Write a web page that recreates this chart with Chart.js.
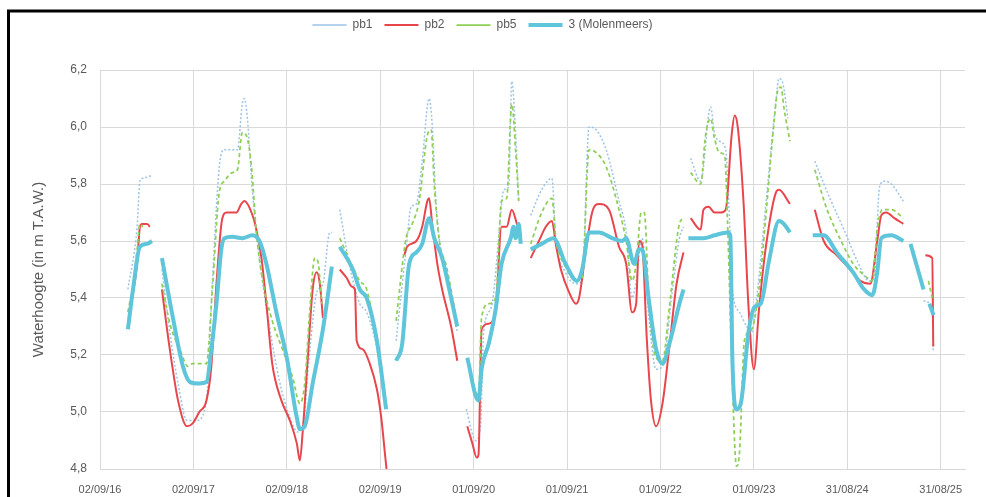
<!DOCTYPE html>
<html lang="nl">
<head>
<meta charset="UTF-8">
<title>Waterhoogte peilbuizen</title>
<script src="https://cdn.jsdelivr.net/npm/chart.js"></script>
<style>
  * { margin: 0; padding: 0; box-sizing: border-box; }
  body { background: #fff; }
  canvas { display: block; }
</style>
</head>
<body>
<canvas id="myChart" width="986" height="497"></canvas>
<script>
// data block (null = gap in the measurements)
const tickLabels = ['02/09/16', '02/09/17', '02/09/18', '02/09/19', '01/09/20', '01/09/21', '01/09/22', '01/09/23', '31/08/24', '31/08/25'];
const axisEnd = '2025-12-04';

const pb1Dates = [
  '2016-12-20', '2017-01-25', '2017-02-05', '2017-02-17', '2017-03-24', '2017-04-10',
  '2017-05-02', '2017-06-02', '2017-07-04', '2017-08-08', '2017-09-14', '2017-10-23', '2017-11-15', '2017-12-12', '2018-01-01', '2018-02-21', '2018-03-12', '2018-03-20', '2018-04-01', '2018-04-20', '2018-05-18', '2018-06-26', '2018-08-04', '2018-09-14', '2018-10-15', '2018-11-03', '2018-12-01', '2018-12-28', '2019-01-21', '2019-02-17', '2019-02-25', '2019-03-10',
  '2019-03-28', '2019-05-06', '2019-06-14', '2019-07-11', '2019-08-20', '2019-09-18', '2019-10-10',
  '2019-11-03', '2019-12-12', '2020-01-01', '2020-01-21', '2020-02-13', '2020-03-11', '2020-03-23', '2020-04-08', '2020-05-01', '2020-05-29', '2020-06-29', '2020-07-15',
  '2020-08-03', '2020-09-09', '2020-09-28', '2020-10-10', '2020-11-10', '2020-12-08', '2020-12-28', '2021-01-16', '2021-01-28', '2021-02-12', '2021-02-24', '2021-03-20',
  '2021-04-12', '2021-05-25', '2021-07-04', '2021-07-19', '2021-08-26', '2021-10-06', '2021-10-30', '2021-11-26', '2021-12-24', '2022-02-01', '2022-03-23', '2022-04-20', '2022-05-13', '2022-05-29', '2022-06-21', '2022-07-18', '2022-08-15', '2022-09-09', '2022-10-18', '2022-11-14', '2022-11-30', '2022-12-10',
  '2022-12-28', '2023-02-05', '2023-03-16', '2023-03-31', '2023-04-20', '2023-05-14', '2023-05-29', '2023-06-09', '2023-07-07', '2023-08-04', '2023-08-23', '2023-09-13', '2023-10-18', '2023-11-26', '2023-12-08', '2023-12-24', '2024-01-12', '2024-02-20',
  '2024-04-26', '2024-06-24', '2024-08-18', '2024-10-09', '2024-11-25', '2024-12-15', '2025-01-04', '2025-01-24', '2025-02-19', '2025-04-07', '2025-05-20',
  '2025-06-25', '2025-07-29', '2025-08-02'
];
const pb1Values = [
  5.43, 5.65, 5.81, 5.82, 5.83, null,
  5.50, 5.28, 5.10, 4.97, 4.97, 5.04, 5.45, 5.86, 5.92, 5.92, 6.08, 6.10, 6.03, 5.78, 5.54, 5.30, 5.11, 4.98, 4.93, 4.95, 5.22, 5.42, 5.45, 5.63, 5.63, null,
  5.71, 5.51, 5.38, 5.35, 5.22, 5.03, null,
  5.25, 5.57, 5.72, 5.73, 5.88, 6.10, 6.01, 5.72, 5.54, 5.43, 5.28, null,
  5.01, 4.90, 4.95, 5.28, 5.37, 5.61, 5.78, 5.79, 6.16, 5.98, 5.74, null,
  5.69, 5.78, 5.82, 5.61, 5.49, 5.45, 5.46, 6.00, 5.99, 5.92, 5.74, 5.63, 5.40, 5.46, 5.61, 5.33, 5.15, 5.16, 5.43, 5.61, 5.65, null,
  5.89, 5.81, 6.07, 5.98, 5.95, 5.92, 5.67, 5.43, 5.35, 5.30, 5.28, 5.41, 5.73, 6.09, 6.17, 6.15, 6.03, null,
  5.88, 5.75, 5.64, 5.53, 5.46, 5.48, 5.79, 5.81, 5.80, 5.74, null,
  5.39, 5.36, 5.21
];

const pb2Dates = [
  '2016-12-28', '2017-01-25', '2017-02-05', '2017-02-13', '2017-03-05', '2017-03-16', '2017-04-10',
  '2017-05-02', '2017-05-22', '2017-06-10', '2017-07-04', '2017-08-08', '2017-08-30', '2017-09-25', '2017-10-23', '2017-11-11', '2017-12-01', '2017-12-24', '2018-01-09', '2018-02-17', '2018-03-08', '2018-03-20', '2018-04-17', '2018-05-06', '2018-05-26', '2018-06-14', '2018-07-07', '2018-08-12', '2018-09-14', '2018-10-11', '2018-10-23', '2018-11-03', '2018-11-23', '2018-12-12', '2018-12-28', '2019-01-09', '2019-01-21', '2019-02-20',
  '2019-03-28', '2019-04-24', '2019-05-14', '2019-05-26', '2019-06-02', '2019-06-26', '2019-07-23', '2019-08-20', '2019-09-06', '2019-09-22', '2019-09-29', '2019-11-01',
  '2019-12-05', '2019-12-16', '2020-01-21', '2020-02-13', '2020-03-04', '2020-03-11', '2020-03-23', '2020-04-12', '2020-05-01', '2020-06-05', '2020-06-29', '2020-07-15',
  '2020-08-07', '2020-08-27', '2020-09-13', '2020-09-20', '2020-10-02', '2020-10-30', '2020-11-26', '2020-12-19', '2021-01-08', '2021-01-28', '2021-02-17', '2021-03-04', '2021-03-20',
  '2021-04-12', '2021-05-14', '2021-06-10', '2021-07-04', '2021-07-19', '2021-08-08', '2021-09-09', '2021-10-06', '2021-10-18', '2021-11-14', '2021-12-08', '2022-01-04', '2022-02-12', '2022-03-23', '2022-04-20', '2022-05-13', '2022-05-29', '2022-06-09', '2022-06-21', '2022-07-10', '2022-07-26', '2022-08-15', '2022-09-09', '2022-10-06', '2022-11-03', '2022-11-30', '2022-12-10',
  '2022-12-28', '2023-02-05', '2023-02-16', '2023-03-08', '2023-03-31', '2023-04-24', '2023-05-14', '2023-06-06', '2023-06-18', '2023-06-30', '2023-07-23', '2023-08-11', '2023-09-01', '2023-09-21', '2023-10-18', '2023-11-26', '2023-12-08', '2024-01-20', '2024-02-20',
  '2024-04-26', '2024-05-31', '2024-07-21', '2024-09-12', '2024-10-21', '2024-11-29', '2024-12-26', '2025-01-11', '2025-01-30', '2025-03-03', '2025-04-07', '2025-05-20',
  '2025-07-02', '2025-07-29', '2025-08-02'
];
const pb2Values = [
  5.36, 5.52, 5.65, 5.66, 5.66, 5.65, null,
  5.43, 5.29, 5.17, 5.04, 4.95, 4.96, 5.00, 5.04, 5.16, 5.45, 5.68, 5.70, 5.70, 5.73, 5.74, 5.70, 5.64, 5.54, 5.38, 5.17, 5.04, 4.97, 4.89, 4.83, 4.93, 5.19, 5.43, 5.49, 5.45, 5.33, null,
  5.50, 5.47, 5.44, 5.43, 5.25, 5.22, 5.17, 5.08, 4.98, 4.84, 4.78, null,
  5.55, 5.58, 5.60, 5.65, 5.74, 5.75, 5.66, 5.52, 5.43, 5.30, 5.18, null,
  4.95, 4.89, 4.84, 4.85, 5.29, 5.31, 5.36, 5.65, 5.65, 5.71, 5.66, 5.61, null,
  5.54, 5.60, 5.65, 5.67, 5.59, 5.50, 5.42, 5.38, 5.40, 5.57, 5.70, 5.73, 5.71, 5.58, 5.52, 5.35, 5.38, 5.60, 5.59, 5.25, 5.04, 4.95, 5.03, 5.23, 5.45, 5.56, null,
  5.68, 5.64, 5.71, 5.72, 5.70, 5.70, 5.71, 5.97, 6.04, 6.00, 5.73, 5.37, 5.15, 5.36, 5.58, 5.77, 5.78, 5.73, null,
  5.71, 5.60, 5.55, 5.50, 5.46, 5.45, 5.60, 5.69, 5.70, 5.68, 5.66, null,
  5.55, 5.54, 5.23
];

const pb5Dates = [
  '2016-12-20', '2017-01-09', '2017-01-25', '2017-02-05', '2017-02-17', '2017-04-10',
  '2017-05-02', '2017-06-02', '2017-07-11', '2017-08-12', '2017-08-30', '2017-10-23', '2017-11-15', '2017-12-12', '2018-01-01', '2018-02-01', '2018-02-21', '2018-03-12', '2018-03-28', '2018-04-17', '2018-05-06', '2018-05-29', '2018-07-07', '2018-08-16', '2018-09-25', '2018-10-23', '2018-11-11', '2018-12-01', '2018-12-20', '2019-01-01', '2019-01-17', '2019-02-20',
  '2019-03-28', '2019-05-06', '2019-06-14', '2019-07-11', '2019-08-04', '2019-09-10', '2019-10-10',
  '2019-11-03', '2019-12-12', '2020-01-05', '2020-02-01', '2020-03-04', '2020-03-19', '2020-03-31', '2020-04-20', '2020-05-18', '2020-06-25', '2020-07-15',
  '2020-08-07', '2020-09-09', '2020-09-20', '2020-10-02', '2020-10-30', '2020-11-26', '2020-12-19', '2021-01-08', '2021-01-28', '2021-02-12', '2021-02-24', '2021-03-20',
  '2021-04-12', '2021-05-25', '2021-07-04', '2021-07-19', '2021-08-26', '2021-10-06', '2021-10-30', '2021-11-26', '2021-12-24', '2022-02-01', '2022-03-23', '2022-04-20', '2022-05-13', '2022-05-29', '2022-06-18', '2022-06-30', '2022-07-18', '2022-08-15', '2022-09-09', '2022-10-06', '2022-11-14', '2022-11-30', '2022-12-10',
  '2022-12-28', '2023-02-05', '2023-02-24', '2023-03-16', '2023-03-31', '2023-04-20', '2023-05-10', '2023-05-21', '2023-06-06', '2023-06-25', '2023-07-07', '2023-07-26', '2023-08-23', '2023-09-21', '2023-10-18', '2023-11-14', '2023-12-04', '2023-12-16', '2023-12-27', '2024-01-20', '2024-02-20',
  '2024-04-26', '2024-06-13', '2024-08-07', '2024-09-23', '2024-11-18', '2024-12-07', '2024-12-26', '2025-01-15', '2025-02-19', '2025-04-07', '2025-05-20',
  '2025-07-14', '2025-07-29'
];
const pb5Values = [
  5.35, 5.45, 5.57, 5.66, 5.65, null,
  5.45, 5.31, 5.22, 5.16, 5.17, 5.17, 5.43, 5.77, 5.81, 5.84, 5.85, 5.98, 5.97, 5.86, 5.63, 5.47, 5.32, 5.22, 5.12, 5.03, 5.10, 5.36, 5.54, 5.53, 5.38, null,
  5.61, 5.53, 5.46, 5.43, 5.33, 5.12, null,
  5.32, 5.61, 5.66, 5.74, 5.97, 5.99, 5.80, 5.60, 5.51, 5.33, null,
  5.19, 5.07, 5.06, 5.33, 5.38, 5.40, 5.74, 5.75, 6.08, 5.92, 5.74, null,
  5.59, 5.70, 5.75, 5.61, 5.51, 5.46, 5.47, 5.92, 5.91, 5.86, 5.71, 5.60, 5.46, 5.52, 5.70, 5.70, 5.38, 5.19, 5.18, 5.37, 5.66, 5.68, null,
  5.84, 5.80, 5.97, 6.03, 5.96, 5.91, 5.90, 5.67, 5.19, 4.81, 4.86, 5.25, 5.29, 5.43, 5.69, 5.97, 6.13, 6.14, 6.07, 5.95, null,
  5.85, 5.71, 5.60, 5.52, 5.47, 5.46, 5.64, 5.71, 5.71, 5.68, null,
  5.46, 5.40
];

const molenDates = [
  '2016-12-20', '2017-01-09', '2017-02-05', '2017-03-05', '2017-03-24', '2017-04-10',
  '2017-05-02', '2017-06-14', '2017-07-23', '2017-08-20', '2017-09-25', '2017-10-23', '2017-11-11', '2017-12-01', '2017-12-20', '2018-01-01', '2018-02-01', '2018-03-12', '2018-04-20', '2018-05-18', '2018-06-14', '2018-07-23', '2018-09-02', '2018-10-11', '2018-10-23', '2018-11-11', '2018-12-12', '2019-01-21', '2019-02-25', '2019-03-10',
  '2019-03-28', '2019-05-18', '2019-06-14', '2019-07-11', '2019-08-20', '2019-09-25', '2019-10-15',
  '2019-11-03', '2019-11-27', '2019-12-24', '2020-01-21', '2020-02-13', '2020-03-11', '2020-03-31', '2020-05-01', '2020-05-29', '2020-06-29', '2020-07-15',
  '2020-08-07', '2020-09-20', '2020-10-02', '2020-10-30', '2020-11-26', '2020-12-19', '2021-01-24', '2021-02-04', '2021-02-12', '2021-02-24', '2021-03-04', '2021-03-20',
  '2021-04-12', '2021-05-25', '2021-07-10', '2021-08-26', '2021-10-10', '2021-10-30', '2021-11-26', '2022-01-04', '2022-02-24', '2022-04-04', '2022-04-20', '2022-05-21', '2022-06-09', '2022-06-21', '2022-07-18', '2022-08-15', '2022-09-09', '2022-10-06', '2022-11-14', '2022-11-30', '2022-12-10',
  '2022-12-19', '2023-02-16', '2023-03-31', '2023-05-21', '2023-06-01', '2023-06-09', '2023-06-25', '2023-07-14', '2023-08-11', '2023-09-05', '2023-09-28', '2023-10-30', '2023-12-08', '2023-12-27', '2024-01-20', '2024-03-01',
  '2024-04-18', '2024-05-31', '2024-07-21', '2024-09-23', '2024-11-05', '2024-12-07', '2024-12-26', '2025-01-11', '2025-02-19', '2025-04-07', '2025-04-20',
  '2025-05-05', '2025-06-25', '2025-07-05',
  '2025-07-18', '2025-08-03'
];
const molenValues = [
  5.29, 5.43, 5.58, 5.59, 5.60, null,
  5.54, 5.33, 5.16, 5.105, 5.10, 5.105, 5.22, 5.38, 5.57, 5.61, 5.615, 5.61, 5.62, 5.60, 5.52, 5.35, 5.19, 4.98, 4.94, 4.95, 5.10, 5.29, 5.51, null,
  5.58, 5.50, 5.43, 5.40, 5.25, 5.01, null,
  5.18, 5.24, 5.52, 5.56, 5.59, 5.68, 5.61, 5.54, 5.43, 5.30, null,
  5.19, 5.04, 5.15, 5.24, 5.36, 5.52, 5.61, 5.65, 5.61, 5.66, 5.59, null,
  5.57, 5.59, 5.61, 5.52, 5.46, 5.50, 5.63, 5.63, 5.61, 5.60, 5.61, 5.52, 5.57, 5.57, 5.39, 5.22, 5.17, 5.24, 5.38, 5.43, null,
  5.61, 5.61, 5.62, 5.63, 5.62, 5.19, 5.01, 5.04, 5.28, 5.37, 5.38, 5.53, 5.67, 5.66, 5.63, null,
  5.62, 5.62, 5.56, 5.49, 5.43, 5.41, 5.49, 5.61, 5.62, 5.60, null,
  5.59, 5.43, null,
  5.38, 5.34
];

// helpers: dates become days since the first axis label
const startMs = Date.UTC(2016, 8, 2);
function dayOf(iso) {
    const [y, m, d] = iso.split('-').map(Number);
    return (Date.UTC(y, m - 1, d) - startMs) / 864e5;
}
function dayOfLabel(lbl) {
    const [d, m, y] = lbl.split('/').map(Number);
    return (Date.UTC(2000 + y, m - 1, d) - startMs) / 864e5;
}
function points(dates, values) {
    return dates.map((d, i) => ({ x: dayOf(d), y: values[i] }));
}

const textColor = '#595959';
const gridColor = '#d9d9d9';
const fontFamily = "'Liberation Sans', Arial, sans-serif";

// plugin block
const frame = {
    id: 'frame',
    beforeInit(chart) {
        // fixed legend band so the plot starts where the original does
        const legend = chart.legend;
        if (legend) {
            const fit = legend.fit;
            legend.fit = function () {
                fit.call(this);
                this.height = 63;
            };
        }
    },
    beforeDraw(chart) {
        const ctx = chart.ctx;
        ctx.save();
        ctx.fillStyle = '#ffffff';
        ctx.fillRect(0, 0, chart.width, chart.height);
        ctx.restore();
    },
    afterDraw(chart) {
        const ctx = chart.ctx;
        ctx.save();
        ctx.strokeStyle = '#000000';
        ctx.lineWidth = 3;
        ctx.beginPath();
        ctx.moveTo(8.5, chart.height);
        ctx.lineTo(8.5, 11);
        ctx.lineTo(chart.width, 11);
        ctx.stroke();
        ctx.restore();
    }
};

const data = {
    datasets: [
        {
            label: 'pb1',
            data: points(pb1Dates, pb1Values),
            borderColor: '#9dc3e6',
            backgroundColor: '#9dc3e6',
            borderWidth: 1.5,
            borderDash: [2, 2],
            order: 3
        },
        {
            label: 'pb2',
            data: points(pb2Dates, pb2Values),
            borderColor: '#e8464c',
            backgroundColor: '#e8464c',
            borderWidth: 2,
            order: 2
        },
        {
            label: 'pb5',
            data: points(pb5Dates, pb5Values),
            borderColor: '#8fcf55',
            backgroundColor: '#8fcf55',
            borderWidth: 1.75,
            borderDash: [4, 3],
            order: 1
        },
        {
            label: '3 (Molenmeers)',
            data: points(molenDates, molenValues),
            borderColor: '#5ec5da',
            backgroundColor: '#5ec5da',
            borderWidth: 4,
            order: 0
        }
    ]
};

const config = {
    type: 'line',
    data,
    options: {
        responsive: false,
        animation: false,
        devicePixelRatio: 1,
        spanGaps: false,
        layout: { padding: { left: 0, top: 7, right: 21, bottom: 0 } },
        elements: {
            point: { radius: 0, hoverRadius: 0 },
            line: { cubicInterpolationMode: 'monotone', borderCapStyle: 'butt' }
        },
        plugins: {
            legend: {
                position: 'top',
                labels: {
                    usePointStyle: true,
                    pointStyle: 'line',
                    pointStyleWidth: 34,
                    padding: 12,
                    color: textColor,
                    font: { size: 12, family: fontFamily },
                    sort: (a, b) => a.datasetIndex - b.datasetIndex
                }
            },
            tooltip: { enabled: false }
        },
        scales: {
            x: {
                type: 'linear',
                min: 0,
                max: dayOf(axisEnd),
                afterBuildTicks(scale) {
                    scale.ticks = tickLabels.map(l => ({ value: dayOfLabel(l) }));
                },
                afterFit(scale) { scale.height = 28; },
                ticks: {
                    autoSkip: false,
                    maxRotation: 0,
                    padding: 14,
                    color: textColor,
                    font: { size: 11, family: fontFamily },
                    callback: (v, i) => tickLabels[i]
                },
                grid: { color: gridColor, drawTicks: false },
                border: { color: gridColor }
            },
            y: {
                min: 4.8,
                max: 6.2,
                afterFit(scale) { scale.width = 100; },
                ticks: {
                    stepSize: 0.2,
                    padding: 13,
                    color: textColor,
                    font: { size: 12, family: fontFamily },
                    callback: v => v.toFixed(1).replace('.', ',')
                },
                grid: { color: gridColor, drawTicks: false },
                border: { display: false },
                title: {
                    display: true,
                    text: 'Waterhoogte (in m T.A.W.)',
                    color: textColor,
                    font: { size: 15, family: fontFamily },
                    padding: { top: 30, bottom: 0 }
                }
            }
        }
    },
    plugins: [frame]
};

// render block
const myChart = new Chart(document.getElementById('myChart'), config);
</script>
</body>
</html>
